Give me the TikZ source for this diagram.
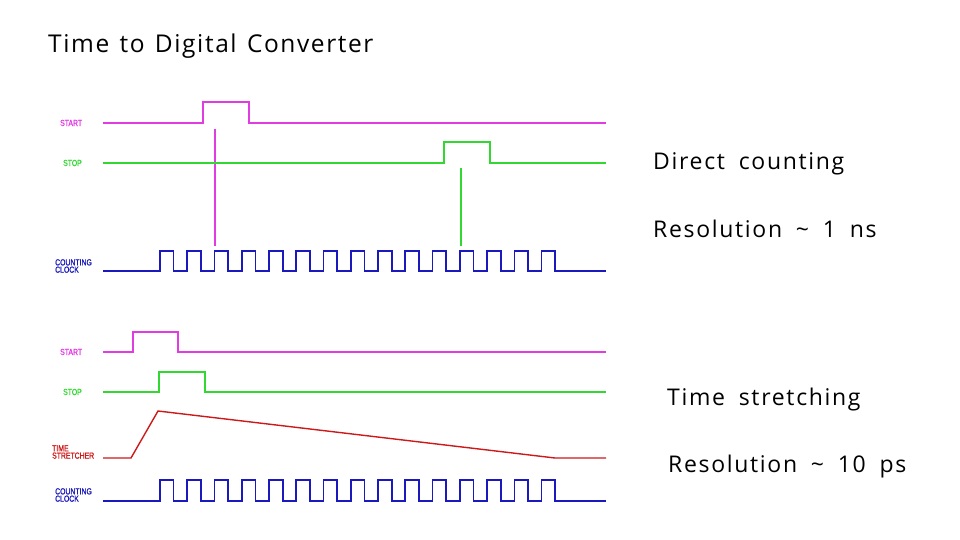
\documentclass[tikz,border=0pt]{standalone}
\usepackage{fontspec}
\setmainfont[LetterSpace=7.3,WordSpace=1.8]{Open Sans}
\newfontfamily\titlefont[LetterSpace=6.5,WordSpace=1.3]{Open Sans}
\newfontfamily\lblfont[FakeStretch=0.78,FakeBold=1.2]{Liberation Sans}
\definecolor{mag}{RGB}{225,60,225}
\definecolor{grn}{RGB}{50,215,50}
\definecolor{clk}{RGB}{25,25,190}
\definecolor{sred}{RGB}{205,25,25}
\begin{document}
\begin{tikzpicture}[x=1pt,y=-1pt,
  sig/.style={line width=1.7pt},
  lbl/.style={anchor=west,inner sep=0pt,font=\lblfont\fontsize{8.8}{8.8}\selectfont,align=left},
  bigtxt/.style={anchor=base west,inner sep=0pt,font=\fontsize{23}{26}\selectfont}]
\useasboundingbox (0,0) rectangle (960,540);
% title
\node[anchor=base west,inner sep=0pt,font=\titlefont\fontsize{24.5}{28}\selectfont] (title) at (48,53) {Time to Digital Converter};
% ---------- top panel ----------
\node[lbl,text=mag] (ts) at (60,123) {START};
\node[lbl,text=grn] (tp) at (63,163) {STOP};
\node[lbl,text=clk] (tc) at (55,266) {COUNTING\\[-1.5pt]CLOCK};
\draw[sig,mag] (103,123) -- (203,123) -- (203,102) -- (249,102) -- (249,123) -- (606,123);
\draw[line width=1.2pt,mag] (215,129) -- (215,246);
\draw[sig,grn] (103,163) -- (444,163) -- (444,142) -- (490,142) -- (490,163) -- (606,163);
\draw[line width=1.2pt,grn] (461,168) -- (461,246);
\draw[sig,clk] (103,271) \foreach \k in {0,...,14}{ -- ({160+27.26*\k},271) -- ({160+27.26*\k},251) -- ({173.63+27.26*\k},251) -- ({173.63+27.26*\k},271)} -- (606,271);
% ---------- bottom panel ----------
\node[lbl,text=mag] (bs) at (60,352) {START};
\node[lbl,text=grn] (bp) at (63,392) {STOP};
\node[lbl,text=sred] (bt) at (52,452) {TIME\\[-1.5pt]STRETCHER};
\node[lbl,text=clk] (bc) at (55,495) {COUNTING\\[-1.5pt]CLOCK};
\draw[sig,mag] (103,352) -- (133,352) -- (133,332) -- (178,332) -- (178,352) -- (606,352);
\draw[sig,grn] (103,392) -- (159,392) -- (159,372) -- (205,372) -- (205,392) -- (606,392);
\draw[line width=1.4pt,sred] (103,458) -- (131,458) -- (158,411) -- (555,458) -- (606,458);
\draw[sig,clk] (103,501) \foreach \k in {0,...,14}{ -- ({160+27.26*\k},501) -- ({160+27.26*\k},480) -- ({173.63+27.26*\k},480) -- ({173.63+27.26*\k},501)} -- (606,501);
% ---------- right texts ----------
\node[bigtxt] (dc) at (653,170) {Direct counting};
\node[bigtxt] (r1) at (653,237) {Resolution \textasciitilde\ 1 ns};
\node[bigtxt] (st) at (667,405) {Time stretching};
\node[bigtxt] (r2) at (668,472) {Resolution \textasciitilde\ 10 ps};
\end{tikzpicture}
\end{document}
